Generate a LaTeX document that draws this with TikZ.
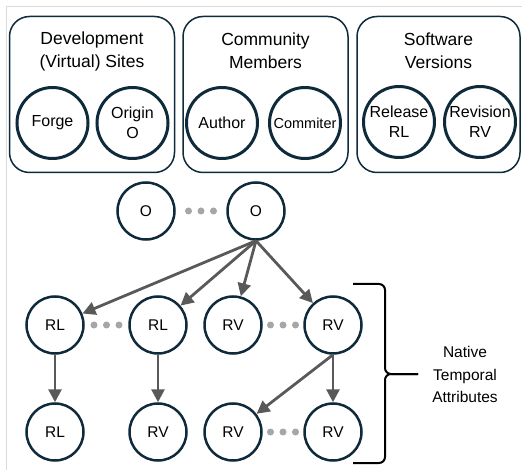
\documentclass[tikz,border=0pt]{standalone}
\usepackage{fontspec}
\setmainfont{Liberation Sans}
\usetikzlibrary{arrows.meta,calc}
\definecolor{navy}{HTML}{0E2A3B}
\definecolor{arrowgray}{HTML}{595959}
\definecolor{dotgray}{HTML}{A6A6A6}
\definecolor{framegray}{HTML}{D9D9D9}
\tikzset{
  groupbox/.style={draw=navy, line width=1.5pt, rounded corners=20pt, minimum width=165pt, minimum height=156pt},
  boxtitle/.style={align=center, font=\fontsize{17.5}{23}\selectfont},
  bignode/.style={draw=navy, circle, line width=3pt, minimum size=71pt, inner sep=0pt, align=center, font=\fontsize{16}{20}\selectfont},
  vnode/.style={draw=navy, circle, line width=2.5pt, minimum size=57pt, inner sep=0pt, font=\fontsize{15.5}{19}\selectfont},
  link/.style={draw=arrowgray, line width=2.8pt, -{Triangle[length=13pt,width=13pt]}},
}
\begin{document}
\begin{tikzpicture}[x=10pt,y=-10pt]
\useasboundingbox (0,0) rectangle (52.2,47);
\draw[framegray, line width=1pt] (52.2,0.65) -| (0.65,47);

% groups
\node[groupbox] (sites) at (9.2,9.45) {};
\node[groupbox] (members) at (26.55,9.45) {};
\node[groupbox, minimum width=163pt] (versions) at (43.85,9.45) {};
\node[boxtitle] (sitestitle) at (9.2,5.1) {Development\\(Virtual) Sites};
\node[boxtitle] (memberstitle) at (26.55,5.1) {Community\\Members};
\node[boxtitle] (versionstitle) at (43.85,5.1) {Software\\Versions};

\node[bignode] (forge) at (5.25,12.3) {Forge};
\node[bignode] (origin) at (13.25,12.3) {Origin\\O};
\node[bignode] (author) at (22.2,12.3) {Author};
\node[bignode, font=\fontsize{14.5}{18}\selectfont] (commiter) at (30.5,12.3) {Commiter};
\node[bignode] (release) at (39.9,12.2) {Release\\RL};
\node[bignode] (revision) at (48.0,12.2) {Revision\\RV};

% graph
\node[vnode] (oa) at (14.6,21.1) {O};
\node[vnode] (ob) at (25.6,21.1) {O};
\node[vnode] (rla) at (5.5,32.5) {RL};
\node[vnode] (rlb) at (15.8,32.5) {RL};
\node[vnode] (rva) at (23.3,32.5) {RV};
\node[vnode] (rvb) at (33.3,32.5) {RV};
\node[vnode] (rlc) at (5.5,43.2) {RL};
\node[vnode] (rvc) at (15.8,43.2) {RV};
\node[vnode] (rvd) at (23.3,43.2) {RV};
\node[vnode] (rve) at (33.3,43.2) {RV};

\path[link] (ob.south) -- (rla);
\path[link] (ob.south) -- (rlb);
\path[link] (ob.south) -- (rva);
\path[link] (ob.south) -- (rvb);
\path[link] (rla) -- (rlc);
\path[link] (rlb) -- (rvc);
\path[link] (rvb.south) -- (rvd);
\path[link] (rvb) -- (rve);

\foreach \p/\q in {oa/ob, rla/rlb, rva/rvb, rvd/rve}
  \foreach \dx in {-12.5,0,12.5}
    \fill[dotgray] ($(\p)!0.5!(\q)$) ++(\dx pt,0) circle (3.5pt);

% brace
\draw[line width=2pt, rounded corners=6pt] (35.3,28.4) -| (38.5,37.4) -- (41.8,37.4);
\draw[line width=2pt, rounded corners=6pt] (35.3,46.3) -| (38.5,37.4) -- (41.8,37.4);
\node[align=center, font=\fontsize{15.5}{22.5}\selectfont] (native) at (46.5,37.45) {Native\\Temporal\\Attributes};

\end{tikzpicture}
\end{document}
